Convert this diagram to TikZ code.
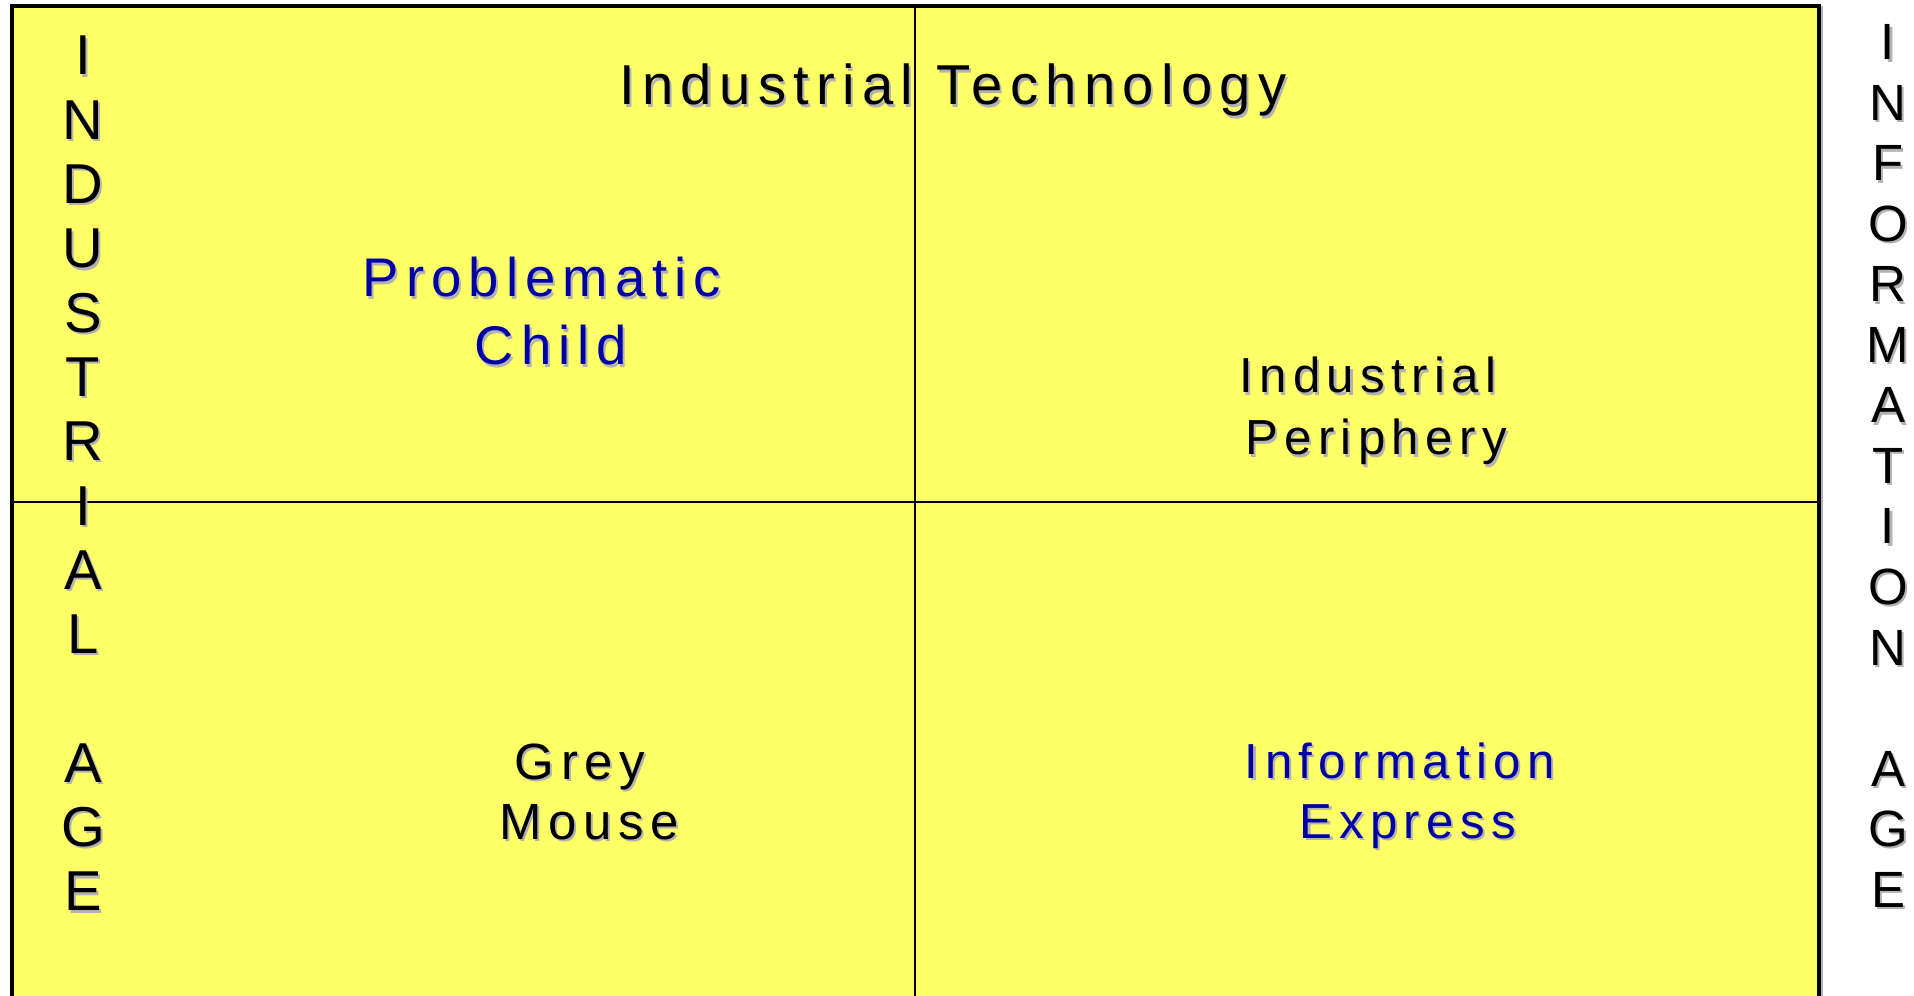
\documentclass[tikz,border=0pt]{standalone}
\usepackage{fontspec}
\setmainfont{Liberation Sans}
\newfontfamily\widesans[LetterSpace=13]{Liberation Sans}

\definecolor{cellyellow}{HTML}{FFFF66}
\definecolor{labelblue}{RGB}{0,0,165}
\definecolor{dropgrey}{RGB}{178,178,178}

% text with a small grey drop shadow behind it
\newcommand{\dropshadow}[1]{\makebox[0pt][l]{\kern1.2pt\raisebox{-1.2pt}{\textcolor{dropgrey}{#1}}}#1}

\begin{document}
\begin{tikzpicture}[x=0.02cm, y=-0.02cm, every node/.style={inner sep=0pt, anchor=base}]
    \tikzstyle{label}=[font=\widesans\fontsize{32}{38}\selectfont]
    \tikzstyle{bluelabel}=[label, text=labelblue]
    \tikzstyle{leftletter}=[font=\fontsize{32}{38}\selectfont]
    \tikzstyle{rightletter}=[font=\fontsize{29}{34}\selectfont]

    \useasboundingbox (0,0) rectangle (1914,996);
    \clip (0,0) rectangle (1914,996);

    % board and quadrant lines
    \draw[line width=2.8pt, dropgrey] (14.5,8) rectangle (1821,1010);
    \draw[line width=2.8pt, fill=cellyellow] (12,6) rectangle (1819,1008);
    \draw[line width=1.1pt] (915,6) -- (915,1008);
    \draw[line width=1.1pt] (12,502) -- (1819,502);

    \node[label] (tech) at (953,105) {\dropshadow{Industrial Technology}};

    \node[bluelabel, font=\widesans\fontsize{31}{36}\selectfont] (probA) at (542,297) {\dropshadow{Problematic}};
    \node[bluelabel, font=\widesans\fontsize{31}{36}\selectfont] (probB) at (551,365) {\dropshadow{Child}};

    \node[label, font=\widesans\fontsize{28}{34}\selectfont] (periA) at (1368,393) {\dropshadow{Industrial}};
    \node[label, font=\widesans\fontsize{28}{34}\selectfont] (periB) at (1376,455) {\dropshadow{Periphery}};

    \node[label, font=\widesans\fontsize{29}{34}\selectfont] (greyA) at (580,779) {\dropshadow{Grey}};
    \node[label, font=\widesans\fontsize{29}{34}\selectfont] (greyB) at (589,839) {\dropshadow{Mouse}};

    \node[bluelabel, font=\widesans\fontsize{28}{34}\selectfont] (infoA) at (1400,778) {\dropshadow{Information}};
    \node[bluelabel, font=\widesans\fontsize{28}{34}\selectfont] (infoB) at (1408,838) {\dropshadow{Express}};

    % side captions, one letter per row
    \foreach \ch/\k in {I/0,N/1,D/2,U/3,S/4,T/5,R/6,I/7,A/8,L/9,A/11,G/12,E/13}
        \node[leftletter] (ind\k) at (83,{75+64.3*\k}) {\dropshadow{\ch}};
    \foreach \ch/\k in {I/0,N/1,F/2,O/3,R/4,M/5,A/6,T/7,I/8,O/9,N/10,A/12,G/13,E/14}
        \node[rightletter] (inf\k) at (1888,{60+60.5*\k}) {\dropshadow{\ch}};
\end{tikzpicture}
\end{document}
